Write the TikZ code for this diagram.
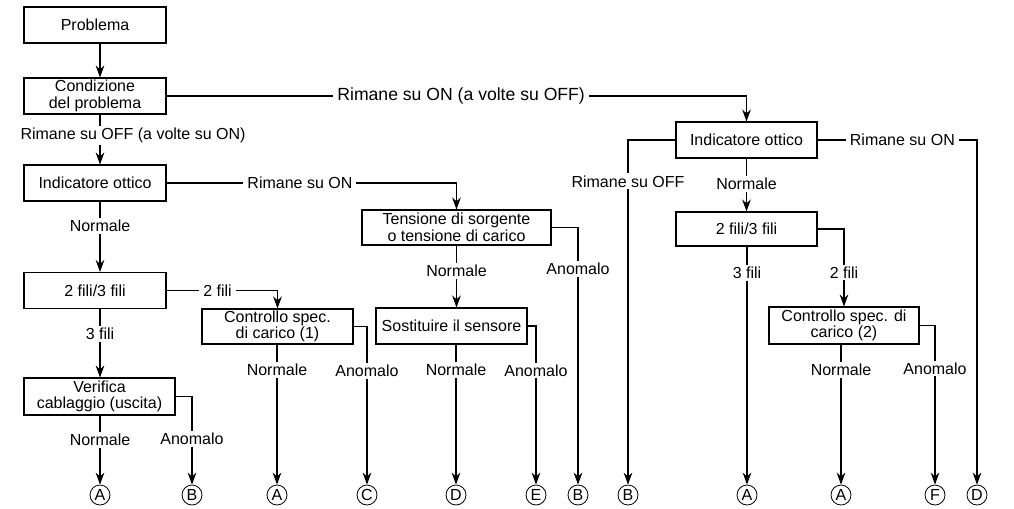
\documentclass[tikz,border=0pt]{standalone}
\usepackage{fontspec}
\setmainfont{Liberation Sans}
\usetikzlibrary{arrows.meta}

\begin{document}
\begin{tikzpicture}[x=0.75pt,y=-0.75pt,>={Stealth[length=9pt,width=6.5pt]},line width=0.8pt]
\tikzstyle{chkbox}=[draw,minimum width=106.5pt,minimum height=27pt,inner sep=0pt,align=center,font=\fontsize{12}{12.5}\selectfont]
\tikzstyle{lbl}=[fill=white,inner xsep=3pt,inner ysep=1.5pt,font=\fontsize{12}{14}\selectfont]
\tikzstyle{endmark}=[draw,circle,minimum size=15pt,inner sep=0pt,line width=0.6pt,font=\fontsize{12}{12}\selectfont]
\useasboundingbox (0,0) rectangle (1014,508);
% left column
\node[chkbox] (prob) at (95,25) {Problema};
\node[chkbox] (cond) at (95,96) {Condizione\\del problema};
\node[chkbox] (ind1) at (95,183) {Indicatore ottico};
\node[chkbox] (fili1) at (95,290.5) {2 fili/3 fili};
\node[chkbox,minimum width=113.25pt,minimum height=27.75pt] (ver) at (99.5,396.5) {Verifica\\cablaggio (uscita)};
\node[chkbox,minimum width=113.25pt,minimum height=26.25pt] (ctrl1) at (277.5,326.5) {Controllo spec.\\di carico (1)};
% middle
\node[chkbox,minimum width=141.75pt,minimum height=26.25pt] (tens) at (456.5,227.5) {Tensione di sorgente\\o tensione di carico};
\node[chkbox,minimum width=113.25pt] (sost) at (451.5,326) {Sostituire il sensore};
% right
\node[chkbox,minimum width=105.75pt] (ind2) at (746.5,140) {Indicatore ottico};
\node[chkbox,minimum width=105.75pt,minimum height=25.5pt] (fili2) at (746.5,229) {2 fili/3 fili};
\node[chkbox,minimum width=112.5pt,minimum height=27.75pt] (ctrl2) at (844,325.5) {Controllo spec. di\\carico (2)};
% end marks
\node[endmark] (A1) at (100,495) {A};
\node[endmark] (B1) at (192,495) {B};
\node[endmark] (A2) at (277,495) {A};
\node[endmark] (C1) at (367,495) {C};
\node[endmark] (D1) at (456,495) {D};
\node[endmark] (E1) at (536,495) {E};
\node[endmark] (B2) at (578,495) {B};
\node[endmark] (B3) at (628,495) {B};
\node[endmark] (A3) at (747,495) {A};
\node[endmark] (A4) at (841,495) {A};
\node[endmark] (F1) at (935,495) {F};
\node[endmark] (D2) at (977,495) {D};
\coordinate (cA) at (100,0);
% connectors
\draw[->] (prob.south -| cA) -- (cond.north -| cA);
\draw[->] (cond.south -| cA) -- node[lbl,pos=0.42,xshift=24.75pt]{Rimane su OFF (a volte su ON)} (ind1.north -| cA);
\draw[->] (cond.east) -| node[lbl,pos=0.254,font=\fontsize{13.2}{14}\selectfont]{Rimane su ON (a volte su OFF)} (ind2.north);
\draw[->] (ind1.south -| cA) -- node[lbl,pos=0.35]{Normale} (fili1.north -| cA);
\draw[->] (ind1.east) -| node[lbl,pos=0.23]{Rimane su ON} (tens.north);
\draw[->] (fili1.south -| cA) -- node[lbl,pos=0.36]{3 fili} (ver.north -| cA);
\draw[->] (fili1.east) -| node[lbl,pos=0.23]{2 fili} (ctrl1.north);
\draw[->] (ver.south -| A1) -- node[lbl,pos=0.35]{Normale} (A1.north);
\draw[->] (ver.east) -| node[lbl,pos=0.74]{Anomalo} (B1.north);
\draw[->] (ctrl1.south -| A2) -- node[lbl,pos=0.18]{Normale} (A2.north);
\draw[->] (ctrl1.east) -| node[lbl,pos=0.64]{Anomalo} (C1.north);
\draw[->] (tens.south) -- node[lbl,pos=0.41]{Normale} (tens.south |- sost.north);
\draw[->] (tens.east) -| node[lbl,pos=0.58]{Anomalo} (B2.north);
\draw[->] (sost.south -| D1) -- node[lbl,pos=0.18]{Normale} (D1.north);
\draw[->] (sost.east) -| node[lbl,pos=0.64]{Anomalo} (E1.north);
\draw[->] (ind2.west) -| node[lbl,pos=0.56]{Rimane su OFF} (B3.north);
\draw[->] (ind2.south) -- node[lbl,pos=0.48]{Normale} (fili2.north);
\draw[->] (ind2.east) -| node[lbl,pos=0.266]{Rimane su ON} (D2.north);
\draw[->] (fili2.south -| A3) -- node[lbl,pos=0.11]{3 fili} (A3.north);
\draw[->] (fili2.east) -| node[lbl,pos=0.78]{2 fili} (ctrl2.north);
\draw[->] (ctrl2.south -| A4) -- node[lbl,pos=0.18]{Normale} (A4.north);
\draw[->] (ctrl2.east) -| node[lbl,pos=0.635]{Anomalo} (F1.north);
\end{tikzpicture}
\end{document}
